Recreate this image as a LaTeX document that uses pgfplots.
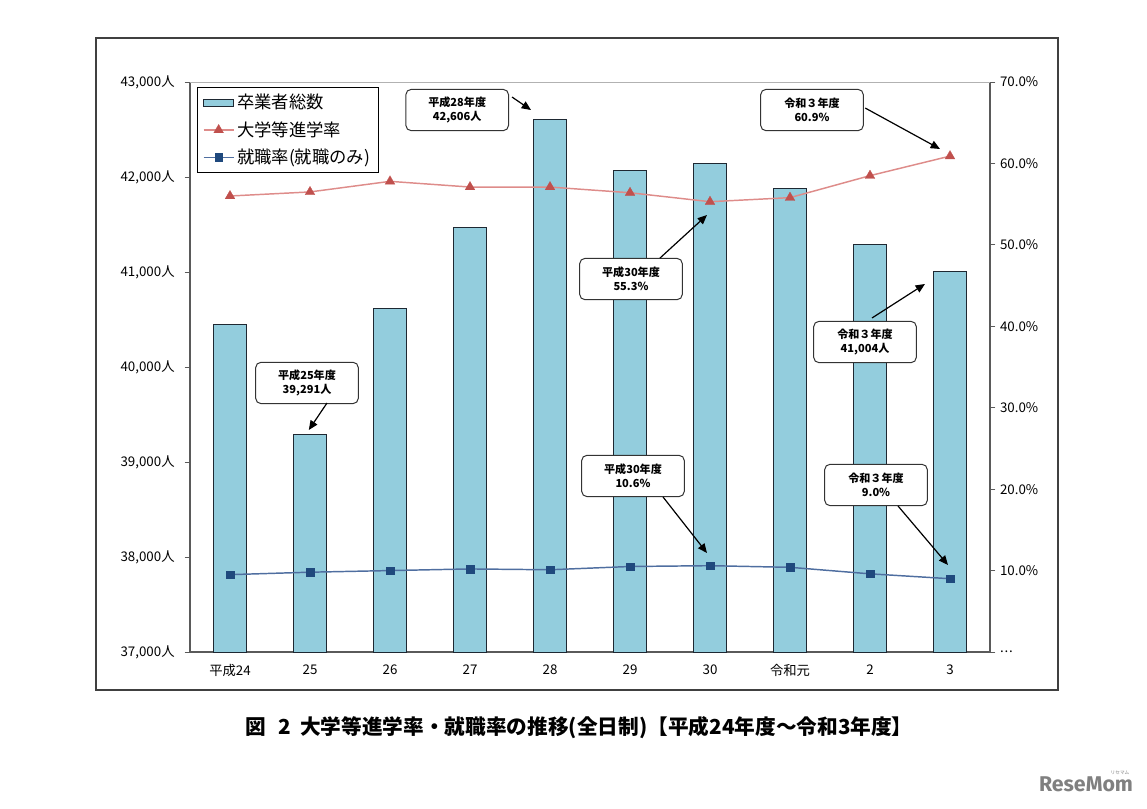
\documentclass[border=0pt]{standalone}
\usepackage{fontspec}
\setmainfont{Noto Sans CJK JP}
\newfontfamily\logofont{Fira Sans}
\usepackage{pgfplots}
\usepackage{pgfplotstable}
\pgfplotsset{compat=1.18}
\usetikzlibrary{arrows.meta}

\definecolor{barfill}{RGB}{147,205,221}
\definecolor{baredge}{RGB}{30,40,50}
\definecolor{redline}{RGB}{222,140,138}
\definecolor{redmark}{RGB}{192,80,77}
\definecolor{blueline}{RGB}{79,110,160}
\definecolor{bluemark}{RGB}{31,73,125}
\definecolor{axisgray}{RGB}{90,90,90}

% x: year index, grads: graduates, rate: univ. entrance %, emp: employment %
\pgfplotstableread{
x grads rate emp
0 40450 56.0 9.5
1 39291 56.5 9.8
2 40620 57.8 10.0
3 41470 57.1 10.2
4 42606 57.1 10.1
5 42070 56.4 10.5
6 42145 55.3 10.6
7 41880 55.8 10.4
8 41290 58.5 9.6
9 41004 60.9 9.0
}\data

\tikzset{
  callout/.style={draw=black!80, fill=white, rounded corners=4pt, line width=0.75pt,
    align=center, font=\fontsize{8.3}{10.5}\selectfont\bfseries,
    minimum width=77pt, minimum height=31pt, inner sep=1pt},
  callarrow/.style={-{Triangle[length=7pt,width=6pt]}, line width=0.9pt}
}

\begin{document}
\begin{tikzpicture}
\path[use as bounding box] (0,0) rectangle (860.25pt,606pt);
\draw[line width=1.1pt, draw=black!75] (72pt,88.5pt) rectangle (793.5pt,577.5pt);

\begin{axis}[
  at={(142.5pt,117pt)}, anchor=south west,
  scale only axis, width=600pt, height=427.5pt,
  xmin=-0.5, xmax=9.5, ymin=37000, ymax=43000,
  scaled y ticks=false,
  axis x line*=bottom, axis y line*=left,
  axis line style={draw=axisgray, line width=0.9pt},
  xtick={0,1,2,3,4,5,6,7,8,9},
  xticklabels={平成24,25,26,27,28,29,30,令和元,2,3},
  x tick style={draw=none},
  ytick={37000,38000,39000,40000,41000,42000,43000},
  yticklabels={{37,000人},{38,000人},{39,000人},{40,000人},{41,000人},{42,000人},{43,000人}},
  tick align=outside, major tick length=4pt,
  y tick style={draw=axisgray, line width=0.75pt},
  ticklabel style={font=\fontsize{10}{12}\selectfont},
  yticklabel style={xshift=-4pt},
  xticklabel style={yshift=-2pt},
  ybar, bar width=24.75pt,
]
\addplot[fill=barfill, draw=baredge, line width=0.75pt] table[x=x,y=grads]{\data};

\node[callout] at (axis cs:2.84,42705) {平成28年度\\42,606人};
\draw[callarrow] (axis cs:3.525,42842) -- (axis cs:3.7625,42705);
\node[callout] at (axis cs:7.275,42705) {令和３年度\\60.9\%};
\draw[callarrow] (axis cs:7.94,42726) -- (axis cs:8.875,42295);
\node[callout] at (axis cs:0.9625,39832) {平成25年度\\39,291人};
\draw[callarrow] (axis cs:1.2125,39621) -- (axis cs:0.985,39337);
\node[callout] at (axis cs:5.0125,40926) {平成30年度\\55.3\%};
\draw[callarrow] (axis cs:5.375,41147) -- (axis cs:5.9625,41600);
\node[callout] at (axis cs:7.9375,40263) {令和３年度\\41,004人};
\draw[callarrow] (axis cs:8.025,40516) -- (axis cs:8.6875,40874);
\node[callout] at (axis cs:5.0375,38853) {平成30年度\\10.6\%};
\draw[callarrow] (axis cs:5.4125,38632) -- (axis cs:5.9625,38042);
\node[callout] at (axis cs:8.075,38758) {令和３年度\\9.0\%};
\draw[callarrow] (axis cs:8.35,38537) -- (axis cs:8.975,37916);
\end{axis}

\begin{axis}[
  at={(142.5pt,117pt)}, anchor=south west,
  scale only axis, width=600pt, height=427.5pt,
  xmin=-0.5, xmax=9.5, ymin=0, ymax=70,
  axis y line*=right, axis x line=none,
  axis line style={draw=axisgray, line width=0.9pt},
  ytick={0,10,20,30,40,50,60,70},
  yticklabels={{.\kern0.6pt.\kern0.6pt.},{10.0\%},{20.0\%},{30.0\%},{40.0\%},{50.0\%},{60.0\%},{70.0\%}},
  tick align=outside, major tick length=4pt,
  y tick style={draw=axisgray, line width=0.75pt},
  ticklabel style={font=\fontsize{10}{12}\selectfont},
  legend style={at={(0.00875,0.991)}, anchor=north west, draw=black, line width=0.9pt,
    font=\fontsize{13}{15}\selectfont, row sep=4pt, inner xsep=4pt, inner ysep=3pt},
  legend cell align=left,
  legend image code/.code={\draw[mark repeat=2,mark phase=2,#1] plot coordinates {(0pt,0pt) (11.25pt,0pt) (22.5pt,0pt)};},
]
\draw[black!30, line width=0.75pt] (rel axis cs:0,1) -- (rel axis cs:1,1);
\addlegendimage{legend image code/.code={\draw[fill=barfill,draw=baredge,line width=0.75pt] (0pt,-2.6pt) rectangle (22.5pt,2.6pt);}}
\addlegendentry{卒業者総数}
\addplot[redline, line width=1.1pt, mark=triangle*, mark size=4.2pt,
  mark options={fill=redmark, draw=redmark, line width=0.2pt}] table[x=x,y=rate]{\data};
\addlegendentry{大学等進学率}
\addplot[blueline, line width=1.1pt, mark=square*, mark size=2.8pt,
  mark options={fill=bluemark, draw=bluemark, line width=0.2pt}] table[x=x,y=emp]{\data};
\addlegendentry{就職率(就職のみ)}
\end{axis}

\node[font=\fontsize{15.5}{18}\selectfont\bfseries] at (434.25pt,60pt)
  {図\hspace{0.6em}2\hspace{0.45em}大学等進学率・就職率の推移(全日制)【平成24年度～令和3年度】};
\node[font=\logofont\bfseries\fontsize{16}{16}\selectfont, text=black!50] at (814.5pt,18pt) {ReseMom};
\node[font=\fontsize{3.5}{4}\selectfont, text=black!50] at (840pt,26.5pt) {リセマム};
\end{tikzpicture}
\end{document}
